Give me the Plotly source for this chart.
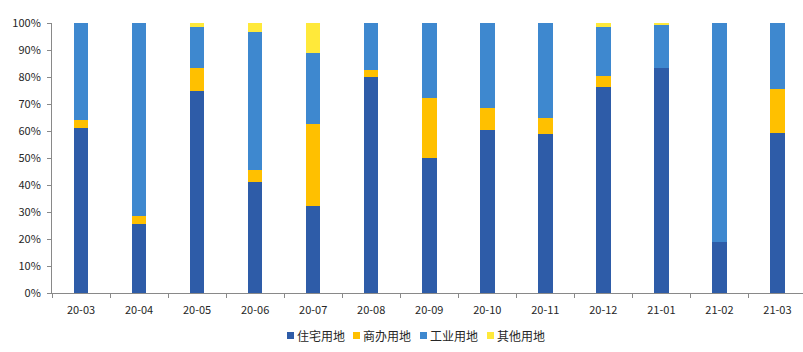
import plotly.graph_objects as go

months = ["20-03", "20-04", "20-05", "20-06", "20-07", "20-08", "20-09",
          "20-10", "20-11", "20-12", "21-01", "21-02", "21-03"]
residential = [61.2, 25.7, 74.9, 41.2, 32.3, 80.1, 50.1, 60.5, 59.0, 76.4, 83.4, 19.0, 59.4]
commercial = [3.0, 2.9, 8.5, 4.5, 30.4, 2.6, 22.2, 8.1, 5.9, 4.1, 0.0, 0.0, 16.3]
industrial = [35.8, 71.4, 15.2, 51.1, 26.3, 17.3, 27.7, 31.4, 35.1, 18.1, 16.0, 81.0, 24.3]
other = [0.0, 0.0, 1.4, 3.2, 11.0, 0.0, 0.0, 0.0, 0.0, 1.4, 0.6, 0.0, 0.0]

series_names = ["住宅用地", "商办用地", "工业用地", "其他用地"]
series_values = [residential, commercial, industrial, other]
series_colors = ["#2E5CA8", "#FFC000", "#3E88CF", "#FFE93A"]
y_ticks = [0, 10, 20, 30, 40, 50, 60, 70, 80, 90, 100]
y_tick_labels = ["0%", "10%", "20%", "30%", "40%", "50%", "60%", "70%", "80%", "90%", "100%"]

W, H = 803, 352
ML, MR, MT, MB = 52, 0, 23, 59
FONT = "Microsoft YaHei, Noto Sans CJK SC, Noto Sans, sans-serif"
AXIS = "#898989"
TXT = "#262626"

fig = go.Figure()
for name, vals, col in zip(series_names, series_values, series_colors):
    fig.add_trace(go.Bar(x=months, y=vals, name=name, marker_color=col,
                         marker_line_width=0, showlegend=False,
                         hovertemplate="%{x}<br>" + name + ": %{y}%<extra></extra>"))

# legend drawn with shapes + text
pw = W - ML - MR
ph = H - MT - MB
def px_x(p):
    return (p - ML) / pw
def px_y(p):
    return (H - MB - p) / ph

sq_x = [287, 353, 420, 487]
txt_x = [295, 361, 428, 495]
shapes = []
annotations = []
for i, (name, col) in enumerate(zip(series_names, series_colors)):
    shapes.append(dict(type="rect", xref="paper", yref="paper",
                       x0=px_x(sq_x[i]), x1=px_x(sq_x[i] + 7),
                       y0=px_y(339), y1=px_y(332),
                       fillcolor=col, line_width=0))
    annotations.append(dict(text=name, xref="paper", yref="paper",
                            x=px_x(txt_x[i]), y=px_y(335.5),
                            xanchor="left", yanchor="middle", showarrow=False,
                            font=dict(family=FONT, size=12, color=TXT)))

fig.update_layout(
    width=W, height=H,
    margin=dict(l=ML, r=MR, t=MT, b=MB),
    paper_bgcolor="white", plot_bgcolor="white",
    barmode="stack", bargap=0.75,
    font=dict(family=FONT, size=11, color=TXT),
    shapes=shapes, annotations=annotations,
    showlegend=False,
)
fig.update_xaxes(type="category", range=[-0.5, 12.44],
                 showline=True, linecolor=AXIS, linewidth=1,
                 ticks="outside", tickson="boundaries", ticklen=4, tickcolor=AXIS,
                 ticklabelstandoff=7,
                 showgrid=False, zeroline=False,
                 tickfont=dict(family=FONT, size=11, color=TXT))
fig.update_yaxes(range=[0, 100], tickmode="array", tickvals=y_ticks, ticktext=y_tick_labels,
                 showline=True, linecolor=AXIS, linewidth=1,
                 ticks="outside", ticklen=4, tickcolor=AXIS,
                 ticklabelstandoff=4,
                 showgrid=False, zeroline=False,
                 tickfont=dict(family=FONT, size=11, color=TXT))

fig.write_html("out.html")
